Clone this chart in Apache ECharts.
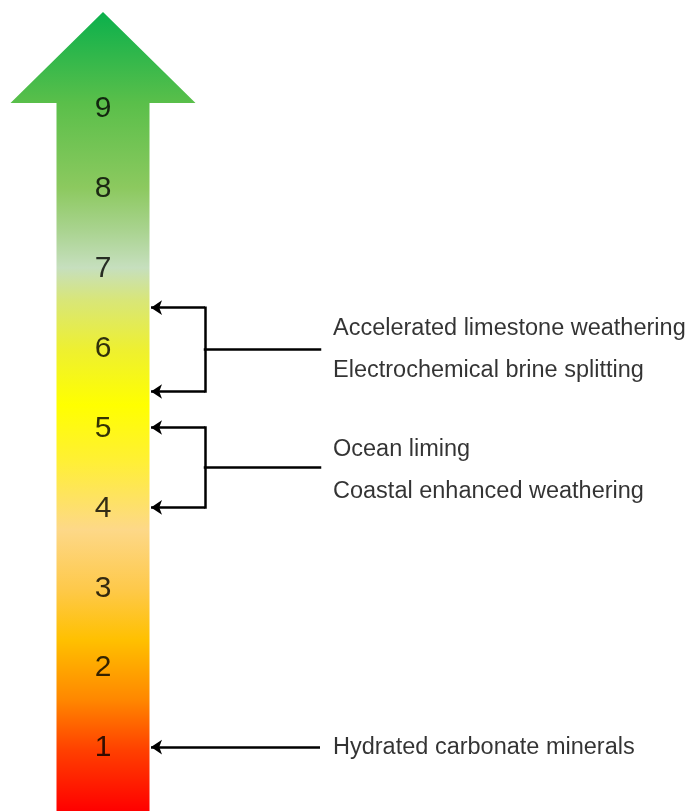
<!DOCTYPE html>
<html><head><meta charset="utf-8">
<script src="https://cdn.jsdelivr.net/npm/echarts@6/dist/echarts.min.js"></script>
<style>html,body{margin:0;padding:0;background:#fff}#c{width:691px;height:811px}</style>
</head><body><div id="c"></div>
<script>
// ---------------- data ----------------
const trlLevels = [1, 2, 3, 4, 5, 6, 7, 8, 9];
const groupNames = [
  ["Accelerated limestone weathering", "Electrochemical brine splitting"],
  ["Ocean liming", "Coastal enhanced weathering"],
  ["Hydrated carbonate minerals"]
];
const groupLow  = [5.45, 4, 1];
const groupHigh = [6.5, 5, 1];

// ---------------- layout / style (not data) ----------------
const L = {
  yMin: 0.2, yMax: 10.2, headBase: 9.06,
  center: 103, shaftHalf: 46.5, headHalf: 92.5,
  tipX: 151, bracketX: 205, lineEndX: 320, textX: 333,
  lineGap: 42
};
const textShift = [0, 3.5, 0];   // small per-group vertical nudge of the text block (px)
const FONT = "'Liberation Sans', Arial, sans-serif";
const gradStops = [
  { offset: 0.000, color: '#0bb04c' },
  { offset: 0.114, color: '#5abf4a' },
  { offset: 0.220, color: '#8cc95f' },
  { offset: 0.273, color: '#a9d38f' },
  { offset: 0.320, color: '#c6dfbe' },
  { offset: 0.360, color: '#d8e679' },
  { offset: 0.423, color: '#eef030' },
  { offset: 0.492, color: '#ffff00' },
  { offset: 0.560, color: '#fff033' },
  { offset: 0.648, color: '#fdd888' },
  { offset: 0.723, color: '#fec94a' },
  { offset: 0.786, color: '#ffc000' },
  { offset: 0.860, color: '#ff8800' },
  { offset: 0.924, color: '#ff4000' },
  { offset: 1.000, color: '#ff0000' }
];

// ---------------- build series data ----------------
const arrowSegs = [];
const plainSegs = [];
const textItems = [];
groupNames.forEach((names, g) => {
  const lo = groupLow[g], hi = groupHigh[g];
  const mid = (lo + hi) / 2;
  if (hi > lo) {
    arrowSegs.push({ coords: [[L.bracketX, hi], [L.tipX, hi]] });
    arrowSegs.push({ coords: [[L.bracketX, lo], [L.tipX, lo]] });
    plainSegs.push({ coords: [[L.bracketX, hi], [L.bracketX, lo]] });
    plainSegs.push({ coords: [[L.lineEndX, mid], [L.bracketX, mid]] });
  } else {
    arrowSegs.push({ coords: [[L.lineEndX, mid], [L.tipX, mid]] });
  }
  const n = names.length;
  names.forEach((nm, i) => {
    textItems.push({
      value: [L.textX, mid], name: nm,
      label: { offset: [0, (i - (n - 1) / 2) * L.lineGap + textShift[g]] }
    });
  });
});

const chart = echarts.init(document.getElementById('c'), null, { renderer: 'canvas' });
chart.setOption({
  animation: false,
  backgroundColor: '#ffffff',
  grid: { left: 0, right: 0, top: 12, bottom: 0 },
  xAxis: { type: 'value', min: 0, max: 691, show: false },
  yAxis: { type: 'value', min: L.yMin, max: L.yMax, show: false },
  series: [
    {
      type: 'custom', clip: false, silent: true,
      data: [[L.center, L.yMin]],
      renderItem: function (params, api) {
        const p = (x, y) => api.coord([x, y]);
        const c = L.center;
        const pts = [
          p(c, L.yMax),
          p(c + L.headHalf, L.headBase),
          p(c + L.shaftHalf, L.headBase),
          p(c + L.shaftHalf, L.yMin),
          p(c - L.shaftHalf, L.yMin),
          p(c - L.shaftHalf, L.headBase),
          p(c - L.headHalf, L.headBase)
        ];
        return {
          type: 'polygon',
          shape: { points: pts },
          style: { fill: new echarts.graphic.LinearGradient(0, 0, 0, 1, gradStops) }
        };
      }
    },
    {
      type: 'scatter', silent: true,
      symbolSize: 1, itemStyle: { color: 'rgba(0,0,0,0)' },
      data: trlLevels.map(v => [L.center, v]),
      label: {
        show: true, position: 'inside', formatter: p => String(p.value[1]),
        fontSize: 30, color: '#000', fontFamily: FONT, offset: [0, 1]
      }
    },
    {
      type: 'lines', coordinateSystem: 'cartesian2d', silent: true,
      symbol: ['none', 'arrow'], symbolSize: [9, 11],
      lineStyle: { color: '#000', width: 2.5, opacity: 1, curveness: 0 },
      data: arrowSegs
    },
    {
      type: 'lines', coordinateSystem: 'cartesian2d', silent: true,
      symbol: 'none',
      lineStyle: { color: '#000', width: 2.5, opacity: 1, curveness: 0, cap: 'square' },
      data: plainSegs
    },
    {
      type: 'scatter', silent: true,
      symbolSize: 1, itemStyle: { color: 'rgba(0,0,0,0)' },
      data: textItems,
      label: {
        show: true, position: 'inside', align: 'left', verticalAlign: 'middle',
        formatter: p => p.name,
        fontSize: 23.5, color: '#000', fontFamily: FONT
      }
    }
  ]
});
</script>
</body></html>
